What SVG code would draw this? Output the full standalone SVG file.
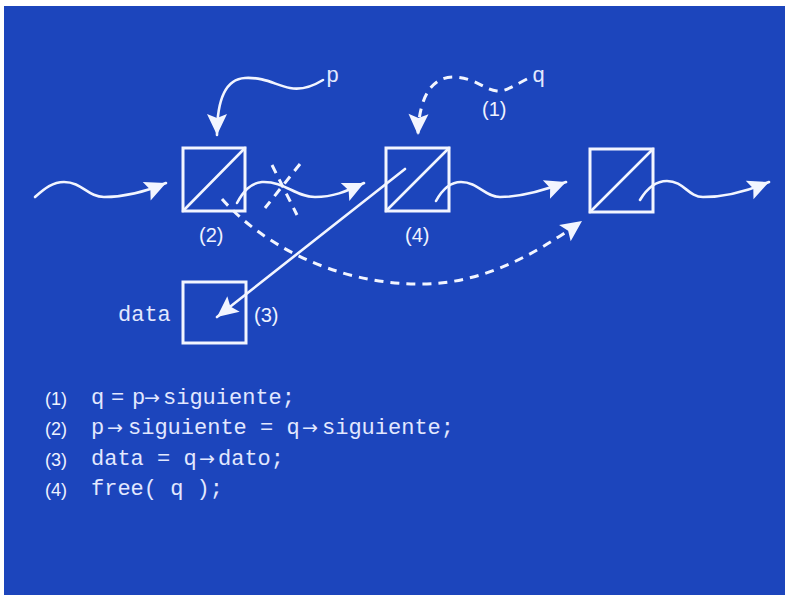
<svg xmlns="http://www.w3.org/2000/svg" width="785" height="595" viewBox="0 0 785 595">
<style>
.bg{fill:#1c45bc}
.box{fill:none;stroke:#f2f5ff;stroke-width:3}
.ln{fill:none;stroke:#f2f5ff;stroke-width:2.6;stroke-linecap:round}
.dash{fill:none;stroke:#f2f5ff;stroke-width:3;stroke-dasharray:9 7}
.mono{font-family:"Liberation Mono","Courier New",monospace;font-size:22px;fill:#e2e8ff}
.sans{font-family:"Liberation Sans",Arial,sans-serif;fill:#eef2ff}
.arr{font-family:"DejaVu Sans","Liberation Sans",sans-serif;font-size:19px;fill:#e2e8ff}
</style>
<defs>
<marker id="ah" markerUnits="userSpaceOnUse" markerWidth="24" markerHeight="22" refX="21" refY="10" orient="auto" overflow="visible">
<path d="M0,0 L21,10 L0,20 L4,10 z" fill="#f2f5ff"/>
</marker>
</defs>
<rect width="785" height="595" fill="#ffffff"/>
<rect class="bg" x="4" y="6" width="781" height="589"/>

<g id="node1">
<rect class="box" x="183" y="148" width="62" height="63"/>
<line class="ln" x1="183" y1="211" x2="245" y2="148"/>
<text class="sans" x="199" y="242" font-size="20">(2)</text>
</g>
<g id="node2">
<rect class="box" x="386" y="148" width="63" height="63"/>
<line class="ln" x1="386" y1="211" x2="449" y2="148"/>
<text class="sans" x="405" y="242" font-size="20">(4)</text>
</g>
<g id="node3">
<rect class="box" x="590" y="149" width="63" height="63"/>
<line class="ln" x1="590" y1="212" x2="653" y2="149"/>
</g>
<g id="data">
<rect class="box" x="183" y="282" width="63" height="61"/>
<text class="mono" x="118" y="321">data</text>
<text class="sans" x="254" y="322" font-size="20">(3)</text>
</g>
<g id="labels">
<text class="mono" x="326" y="82">p</text>
<text class="mono" x="532" y="82">q</text>
<text class="sans" x="482" y="116" font-size="20">(1)</text>
</g>

<g id="connectors">
<path class="ln" marker-end="url(#ah)" d="M35,197 C45,188 53,182 64,182 C82,182 88,197 104,197 C125,197 145,192 166,183"/>
<path class="ln" marker-end="url(#ah)" d="M237,203 C243,192 250,183 262,182 C285,181 295,197 315,197 C333,197 345,192 364,183"/>
<path class="ln" marker-end="url(#ah)" d="M436,201 C442,190 450,182 461,182 C478,182 485,197 500,197 C520,197 540,192 566,182"/>
<path class="ln" marker-end="url(#ah)" d="M640,200 C646,190 655,181 667,181 C684,181 688,197 703,197 C725,197 745,192 769,182"/>
<path class="ln" marker-end="url(#ah)" d="M323,80 C310,88 300,90 290,88 C275,85 265,77 245,78 C225,79 217,100 217,135"/>
<path class="dash" marker-end="url(#ah)" d="M527,79 C515,85 505,92 497,91 C485,90 475,78 455,77 C435,76 419,92 418,135"/>
<path class="dash" marker-end="url(#ah)" d="M222,199 C258,240 330,284 420,284 C480,284 530,258 582,221"/>
<line class="ln" marker-end="url(#ah)" x1="405" y1="169" x2="217" y2="317"/>
<line class="dash" x1="272" y1="165" x2="297" y2="215"/>
<line class="dash" x1="300" y1="164" x2="265" y2="208"/>
</g>

<g id="code">
<text class="sans" x="45" y="405" font-size="18">(1)</text>
<text class="mono" y="404"><tspan x="91">q</tspan><tspan x="111">=</tspan><tspan x="132">p</tspan></text>
<text class="arr" x="144" y="404">→</text>
<text class="mono" x="163" y="404">siguiente;</text>

<text class="sans" x="45" y="435" font-size="18">(2)</text>
<text class="mono" x="91" y="434">p</text>
<text class="arr" x="107" y="434">→</text>
<text class="mono" x="128" y="434">siguiente = q</text>
<text class="arr" x="302" y="434">→</text>
<text class="mono" x="322" y="434">siguiente;</text>

<text class="sans" x="45" y="466" font-size="18">(3)</text>
<text class="mono" x="91" y="465">data = q</text>
<text class="arr" x="199" y="465">→</text>
<text class="mono" x="218" y="465">dato;</text>

<text class="sans" x="45" y="496" font-size="18">(4)</text>
<text class="mono" x="91" y="495">free( q );</text>
</g>
</svg>
